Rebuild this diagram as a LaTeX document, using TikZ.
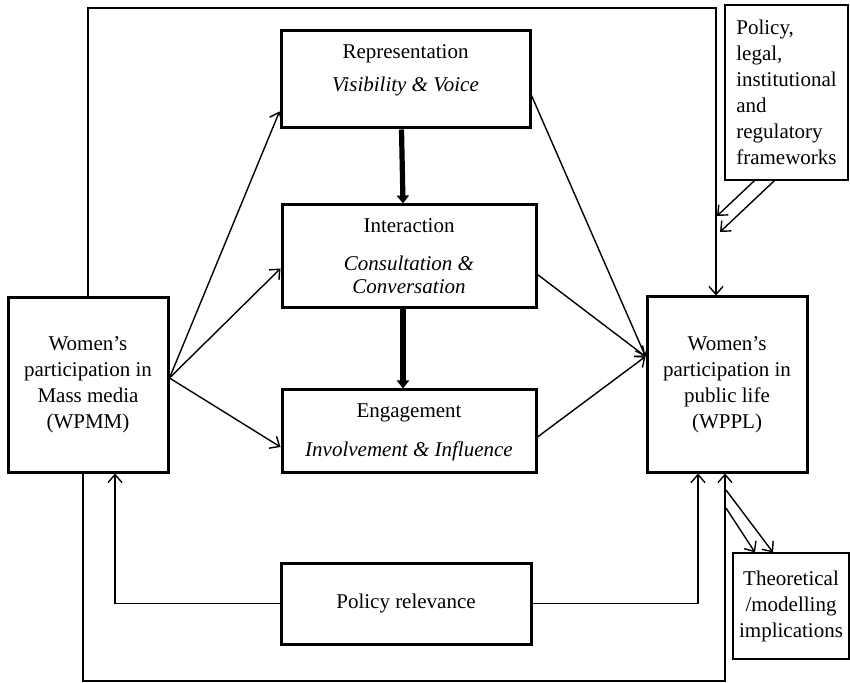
\documentclass[tikz,border=0pt]{standalone}
\usepackage{fontspec}
\setmainfont{Liberation Serif}
\usetikzlibrary{arrows.meta,positioning}

\tikzset{
  mainbox/.style={draw, line width=1.5pt, inner sep=0pt, align=center},
  sidebox/.style={draw, line width=0.6pt, inner sep=0pt},
  boxtext/.style={align=center, inner sep=0pt},
  link/.style={line width=0.7pt, -{Straight Barb[length=4pt,width=7pt]}},
  flow/.style={line width=2.6pt, -{Triangle[length=4pt,width=6pt]}},
}

\begin{document}
\begin{tikzpicture}[x=0.5pt, y=-0.5pt, font=\fontsize{10.5}{13}\selectfont]
  \useasboundingbox (0,0) rectangle (850,683);
  % outer boxes
  \node[mainbox, minimum width=80pt, minimum height=87pt] (wpmm) at (88,385)
    {Women’s\\participation in\\Mass media\\(WPMM)};
  \node[mainbox, minimum width=80pt, minimum height=87.5pt] (wppl) at (727,384.5)
    {Women’s\\participation in\\public life\\(WPPL)};
  % middle column
  \node[mainbox, minimum width=124.5pt, minimum height=48.5pt] (rep) at (405.5,79.5) {};
  \node[mainbox, minimum width=127pt, minimum height=51.5pt] (inter) at (409,256.5) {};
  \node[mainbox, minimum width=127pt, minimum height=41pt] (engage) at (409,431) {};
  \node[mainbox, minimum width=125pt, minimum height=40.5pt] (polrel) at (406,603.5) {Policy relevance};
  \node[boxtext, below=7.5pt of rep.north] (rep text)
    {Representation\\[3.5pt]\textit{Visibility \& Voice}};
  \node[boxtext, below=7.5pt of inter.north] (inter text)
    {Interaction\\[6pt]\textit{Consultation \&}\\[-1.5pt]\textit{Conversation}};
  \node[boxtext, below=7.5pt of engage.north] (engage text)
    {Engagement\\[6.5pt]\textit{Involvement \& Influence}};
  % side boxes
  \node[sidebox, minimum width=61.5pt, minimum height=87.5pt, align=left] (policy) at (786.5,92.5)
    {Policy,\\legal,\\institutional\\and\\regulatory\\frameworks};
  \node[sidebox, minimum width=58pt, minimum height=53pt, align=center] (theory) at (791,606)
    {Theoretical\\/modelling\\implications};

  \coordinate (toprun) at (400,8);
  \coordinate (botrun) at (400,681);
  \coordinate (pol tip a) at (717,216);
  \coordinate (pol tip b) at (720,232);
  \coordinate (th start a) at (726,490);
  \coordinate (th start b) at (726,508);

  % fan out of WPMM
  \draw[link] ([yshift=3.5pt]wpmm.east) -- ([yshift=9pt]rep.south west);
  \draw[link] ([yshift=3.5pt]wpmm.east) -- ([yshift=-6pt]inter.west);
  \draw[link] ([yshift=3.5pt]wpmm.east) -- ([yshift=-8pt]engage.west);
  % fan in to WPPL
  \draw[link] ([yshift=-8pt]rep.east) -- ([yshift=14pt]wppl.west);
  \draw[link] ([yshift=-9pt]inter.east) -- ([yshift=14pt]wppl.west);
  \draw[link] ([yshift=-3pt]engage.east) -- ([yshift=14pt]wppl.west);
  % down the middle
  \draw[flow] ([xshift=-2pt]rep.south) -- ([xshift=-3pt]inter.north);
  \draw[flow] ([xshift=-3pt]inter.south) -- ([xshift=-3pt]engage.north);
  % loops
  \draw[link] (wpmm.north) |- (toprun) -| ([xshift=-5.5pt]wppl.north);
  \draw[link] ([xshift=-2.5pt]wpmm.south) |- (botrun) -| ([xshift=-1pt]wppl.south);
  \draw[link] (polrel.west) -| ([xshift=13.5pt]wpmm.south);
  \draw[link] (polrel.east) -| ([xshift=-14.5pt]wppl.south);
  % side arrows
  \draw[link] ([xshift=-16pt]policy.south) -- (pol tip a);
  \draw[link] ([xshift=-6pt]policy.south) -- (pol tip b);
  \draw[link] (th start a) -- ([xshift=-9pt]theory.north);
  \draw[link] (th start b) -- ([xshift=-18pt]theory.north);
\end{tikzpicture}
\end{document}
